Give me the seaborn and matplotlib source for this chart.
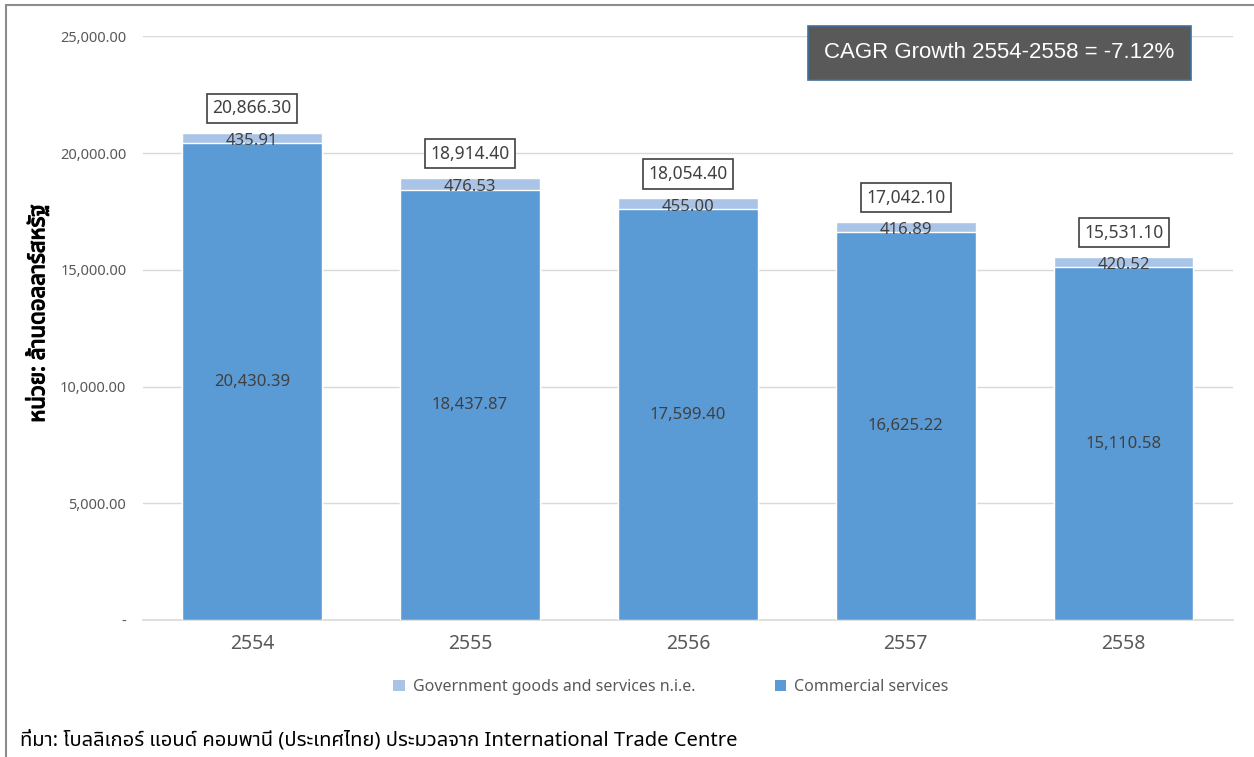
import matplotlib
matplotlib.use("Agg")
import matplotlib.pyplot as plt
import matplotlib.patheffects as pe
import seaborn as sns
import pandas as pd
from matplotlib.lines import Line2D
from matplotlib.patches import Patch
from matplotlib import font_manager

years = ["2554", "2555", "2556", "2557", "2558"]
commercial = [20430.39, 18437.87, 17599.40, 16625.22, 15110.58]
government = [435.91, 476.53, 455.00, 416.89, 420.52]
totals = [20866.30, 18914.40, 18054.40, 17042.10, 15531.10]
yticks = [0, 5000, 10000, 15000, 20000, 25000]


def find_thai_family():
    try:
        from fontTools.ttLib import TTFont
    except Exception:
        return None
    found = []
    for fe in font_manager.fontManager.ttflist:
        try:
            f = TTFont(fe.fname, fontNumber=0, lazy=True)
            cmap = f.getBestCmap() or {}
            if 0x0E01 in cmap and 0x0E48 in cmap:
                found.append(fe.name)
        except Exception:
            continue
    pref = ["Noto Sans Thai", "Noto Sans Thai UI", "Leelawadee UI", "Tahoma",
            "Loma", "Garuda", "Waree", "Umpush", "Sawasdee", "Noto Sans Thai Looped"]
    for p in pref:
        if p in found:
            return p
    return found[0] if found else None


sns.set_theme(style="white")
thai = find_thai_family()
base = ["Noto Sans", "DejaVu Sans"]
plt.rcParams['font.family'] = base
thai_fam = base[:1] + ([thai] if thai else []) + base[1:]

c_comm = "#5B9BD5"
c_gov = "#A9C4E6"

fig = plt.figure(figsize=(12.54, 7.57), dpi=100)
ax = fig.add_axes([0.114, 0.181, 0.869, 0.771])

df = pd.DataFrame({"year": years, "commercial": commercial,
                   "government": government, "total": totals})

sns.barplot(data=df, x="year", y="total", color=c_gov, width=0.64,
            saturation=1, ax=ax, zorder=2)
sns.barplot(data=df, x="year", y="commercial", color=c_comm, width=0.64,
            saturation=1, ax=ax, zorder=3)

ax.set_xlim(-0.5, 4.5)
ax.set_ylim(0, 25000)
ax.set_yticks(yticks)
ax.set_yticklabels(["-" if v == 0 else f"{v:,.2f}" for v in yticks],
                   fontsize=10.5, color="#595959")
ax.tick_params(axis="y", length=0, pad=12)
ax.tick_params(axis="x", length=0, pad=10, labelsize=14, labelcolor="#595959")
ax.yaxis.grid(True, color="#D9D9D9", linewidth=1, zorder=0)
ax.set_axisbelow(True)
for s in ["top", "right", "left"]:
    ax.spines[s].set_visible(False)
ax.spines["bottom"].set_color("#D9D9D9")
ax.spines["bottom"].set_linewidth(1.2)
ax.set_xlabel("")
yl = ax.set_ylabel("หน่วย: ล้านดอลลาร์สหรัฐ", fontsize=16, fontweight="bold",
                   color="black", family=thai_fam)
yl.set_path_effects([pe.withStroke(linewidth=0.9, foreground="black")])
ax.yaxis.set_label_coords(-0.086, 0.525)

for i in range(len(years)):
    ax.text(i, commercial[i] * 0.5, f"{commercial[i]:,.2f}", ha="center",
            va="center", fontsize=12, color="#404040", zorder=5)
    ax.text(i, commercial[i] + government[i] * 0.5 - 120, f"{government[i]:,.2f}",
            ha="center", va="center", fontsize=12, color="#404040", zorder=5)
    ax.text(i, totals[i] + 1050, f"{totals[i]:,.2f}", ha="center", va="center",
            fontsize=12.5, color="#404040", zorder=5,
            bbox=dict(boxstyle="square,pad=0.32", fc="white", ec="#404040", lw=1.2))

fig.text(0.797, 0.930, "CAGR Growth 2554-2558 = -7.12%", ha="center", va="center",
         fontsize=16, color="white", family=["Liberation Sans", "DejaVu Sans"],
         bbox=dict(boxstyle="square,pad=0.75", fc="#595959", ec="#41719C", lw=1.2))

handles = [Patch(facecolor=c_gov, edgecolor="none"),
           Patch(facecolor=c_comm, edgecolor="none")]
fig.legend(handles, ["Government goods and services n.i.e.", "Commercial services"],
           loc="center", bbox_to_anchor=(0.535, 0.092), ncol=2, frameon=False,
           fontsize=11.5, labelcolor="#595959", handlelength=0.7, handleheight=0.7,
           columnspacing=5, handletextpad=0.5)

fig.text(0.016, 0.022, "ที่มา: โบลลิเกอร์ แอนด์ คอมพานี (ประเทศไทย) ประมวลจาก International Trade Centre",
         ha="left", va="center", fontsize=14.5, color="black", family=thai_fam)

fig.add_artist(Line2D([0.005, 1.0], [0.993, 0.993], transform=fig.transFigure,
                      color="#8C8C8C", lw=1.5))
fig.add_artist(Line2D([0.005, 0.005], [0.0, 0.993], transform=fig.transFigure,
                      color="#8C8C8C", lw=1.5))

fig.savefig("out.png", dpi=100)
